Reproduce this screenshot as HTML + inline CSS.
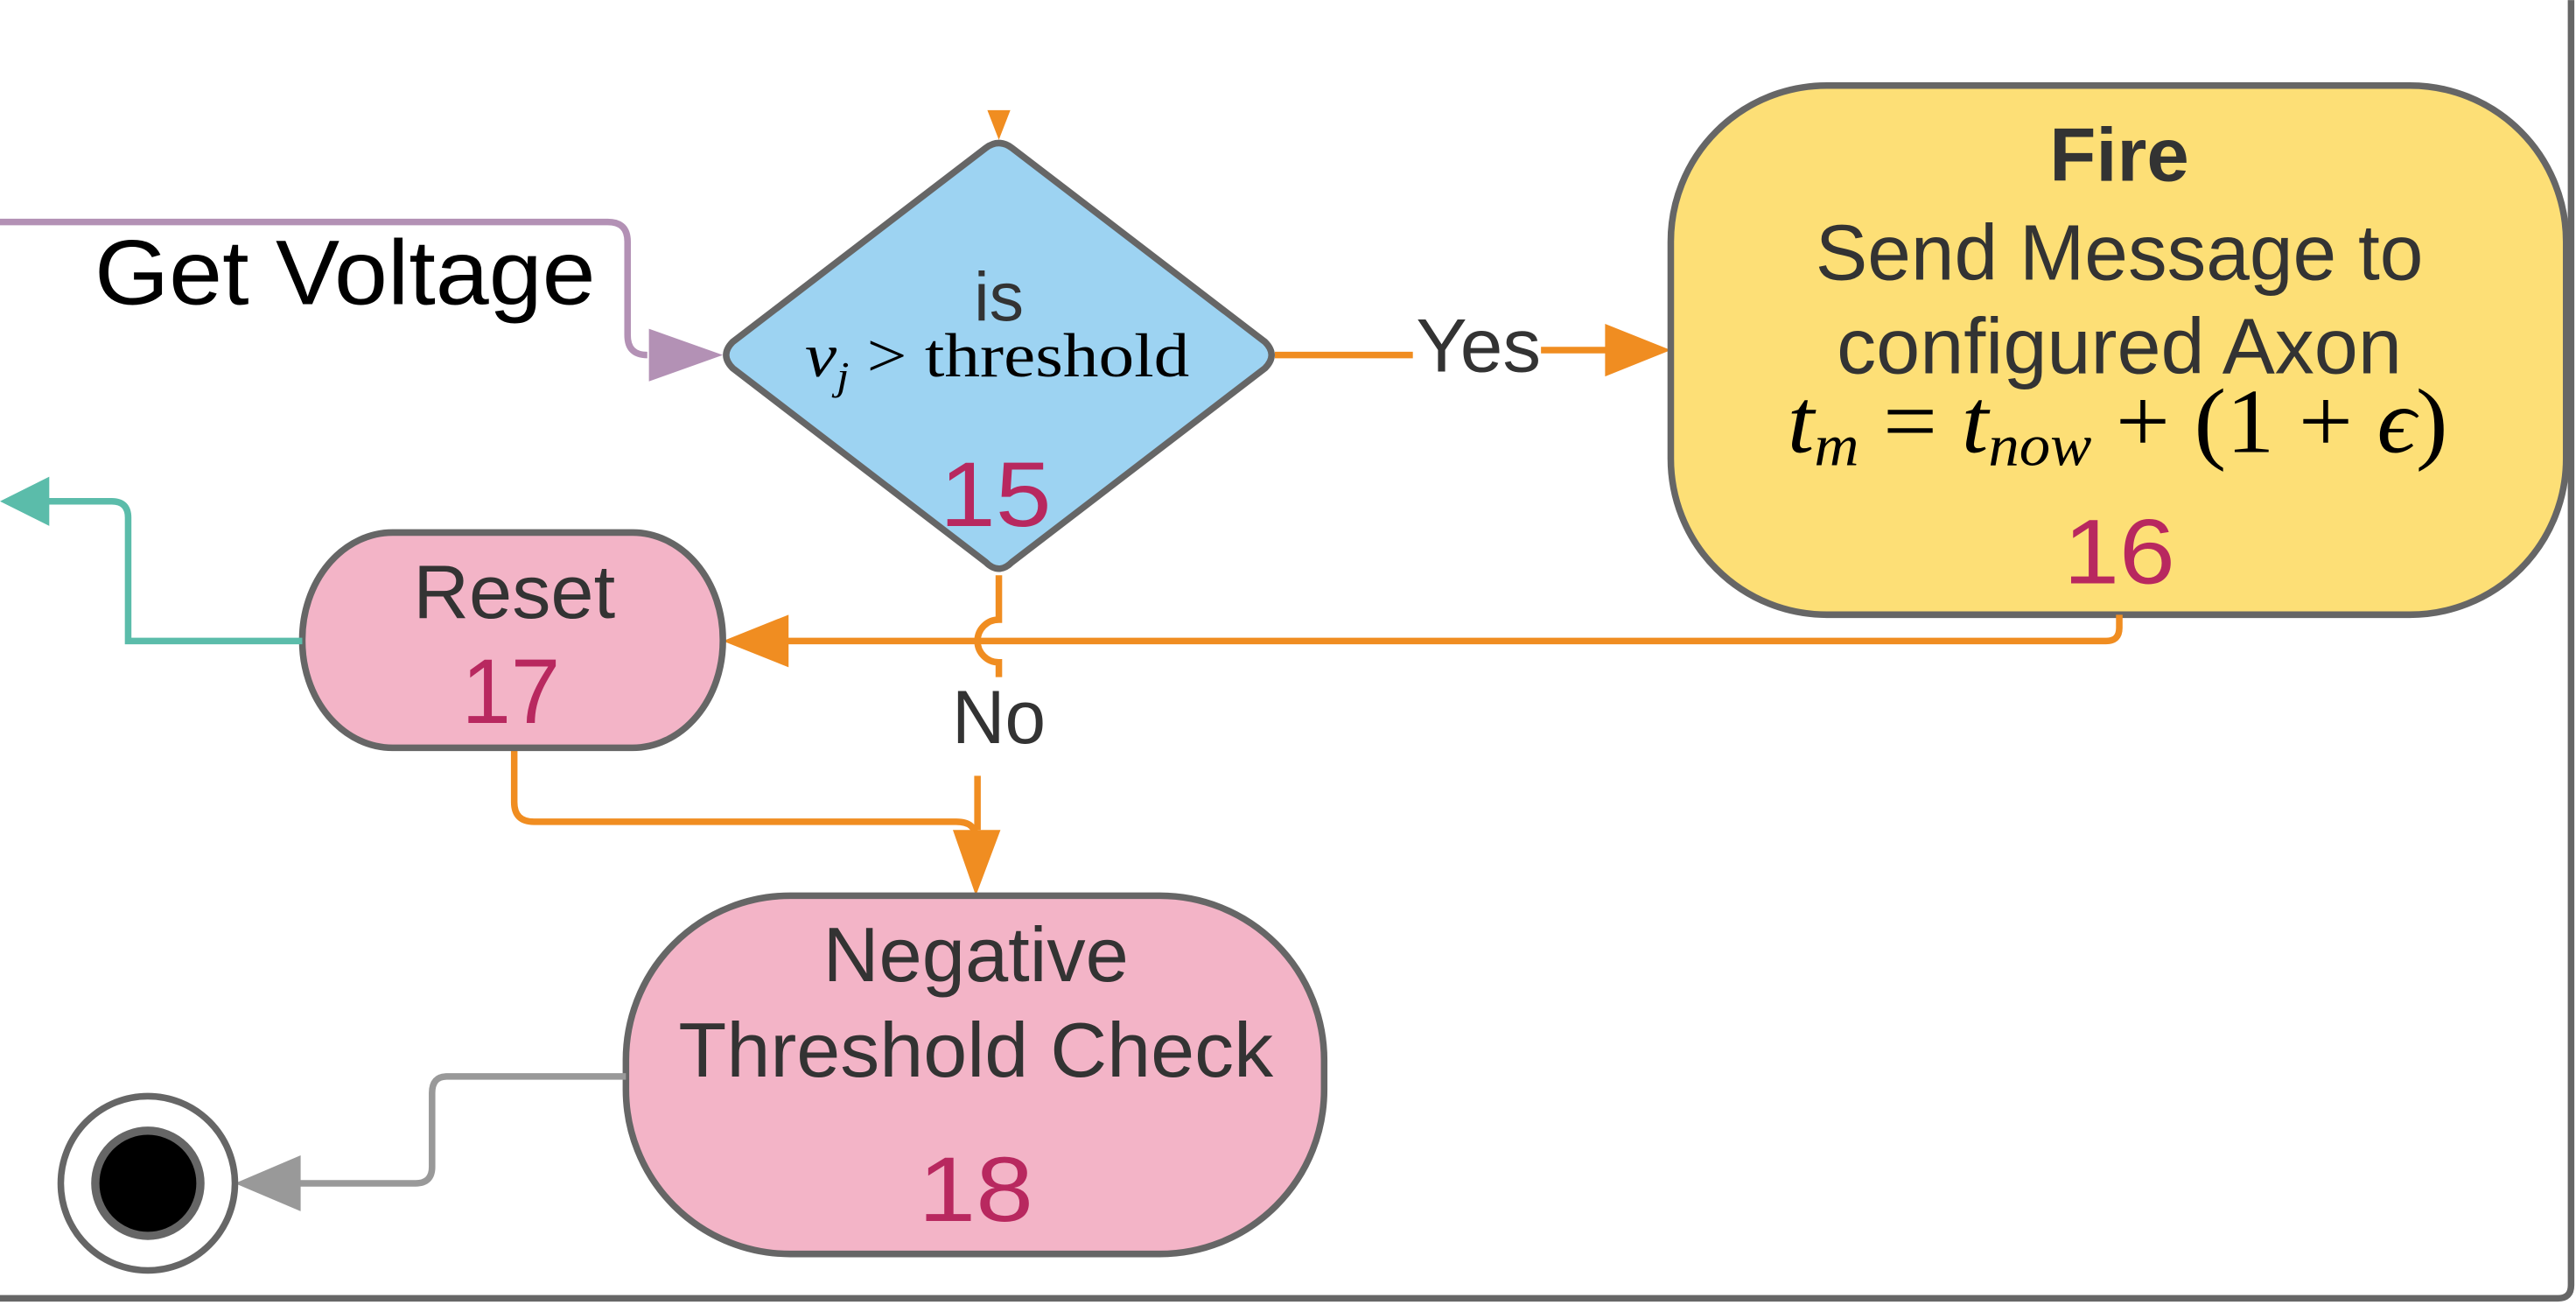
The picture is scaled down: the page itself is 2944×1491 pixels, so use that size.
<!DOCTYPE html>
<html><head><meta charset="utf-8"><style>
html,body{margin:0;padding:0;background:#fff;}
svg{display:block;}
.t{font-family:"Liberation Sans",sans-serif;fill:#333;text-anchor:middle;}
.n{font-family:"Liberation Sans",sans-serif;fill:#b8285f;text-anchor:middle;}
.m{font-family:"Liberation Serif",serif;fill:#000;text-anchor:middle;}
</style></head><body>
<svg width="2944" height="1491" viewBox="0 0 1568 794" xmlns="http://www.w3.org/2000/svg">
<path d="M1565 0 V782 Q1565 790 1557 790 H0" fill="none" stroke="#666" stroke-width="4"/>

<path d="M0 135 H370 Q382 135 382 147 V204 Q382 216 394 216" fill="none" stroke="#b391b5" stroke-width="4"/>
<polygon points="395,200 440,216 395,232" fill="#b391b5"/>
<text x="210" y="185" font-family="Liberation Sans, sans-serif" font-size="56" fill="#000" text-anchor="middle" textLength="305" lengthAdjust="spacingAndGlyphs">Get Voltage</text>

<polygon points="601,67 615,67 608,85" fill="#f08d21"/>

<path d="M600 90 Q608 84 616 90 L770 208 Q778 216 770 224 L616 342 Q608 350 600 342 L446 224 Q438 216 446 208 Z" fill="#9dd3f2" stroke="#666" stroke-width="4" stroke-linejoin="round"/>
<text class="t" x="608" y="195" font-size="42">is</text>
<text class="m" x="607" y="229" font-size="38" textLength="234" lengthAdjust="spacingAndGlyphs"><tspan font-style="italic">v</tspan><tspan font-style="italic" font-size="24" dy="8">j</tspan><tspan dy="-8"> &gt; threshold</tspan></text>
<text class="n" x="606" y="320" font-size="56" textLength="68" lengthAdjust="spacingAndGlyphs">15</text>

<path d="M776 216 H860" stroke="#f08d21" stroke-width="4"/>
<text class="t" x="900" y="226" font-size="46" textLength="76" lengthAdjust="spacingAndGlyphs">Yes</text>
<path d="M938 213 H980" stroke="#f08d21" stroke-width="4"/>
<polygon points="977,197 1017,213 977,229" fill="#f08d21"/>

<rect x="1017" y="52" width="545" height="322" rx="95" ry="95" fill="#fddf76" stroke="#666" stroke-width="4"/>
<text class="t" x="1290" y="110" font-size="46" font-weight="bold" textLength="85" lengthAdjust="spacingAndGlyphs">Fire</text>
<text class="t" x="1290" y="170" font-size="48" textLength="370" lengthAdjust="spacingAndGlyphs">Send Message to</text>
<text class="t" x="1290" y="227" font-size="48" textLength="344" lengthAdjust="spacingAndGlyphs">configured Axon</text>
<text class="m" x="1289" y="275" font-size="56" font-style="italic" textLength="402" lengthAdjust="spacingAndGlyphs">t<tspan font-size="36" dy="8">m</tspan><tspan dy="-8" font-style="normal"> = </tspan>t<tspan font-size="36" dy="8">now</tspan><tspan dy="-8" font-style="normal"> + (1 + </tspan>ϵ<tspan font-style="normal">)</tspan></text>
<text class="n" x="1290" y="355" font-size="56" textLength="68" lengthAdjust="spacingAndGlyphs">16</text>

<path d="M1290 374 V382 Q1290 390 1282 390 H478" fill="none" stroke="#f08d21" stroke-width="4"/>
<polygon points="480,374 440,390 480,406" fill="#f08d21"/>

<path d="M608 350 V377 A13 13 0 0 0 608 403 V412" fill="none" stroke="#f08d21" stroke-width="4"/>
<text class="t" x="608" y="452" font-size="46" textLength="57" lengthAdjust="spacingAndGlyphs">No</text>
<path d="M595 472 V505" stroke="#f08d21" stroke-width="4"/>

<path d="M313 450 V488 Q313 500 325 500 H582 Q594 500 594 510" fill="none" stroke="#f08d21" stroke-width="4"/>
<polygon points="580,505 609,505 594,545" fill="#f08d21"/>

<rect x="184" y="324" width="256" height="131" rx="55" ry="65" fill="#f3b4c7" stroke="#666" stroke-width="4"/>
<text class="t" x="313" y="376" font-size="46" textLength="123" lengthAdjust="spacingAndGlyphs">Reset</text>
<text class="n" x="311" y="440" font-size="56" textLength="60" lengthAdjust="spacingAndGlyphs">17</text>

<path d="M184 390 H78 V315 Q78 305 68 305 H28" fill="none" stroke="#5bbcaa" stroke-width="4"/>
<polygon points="30,290 0,305 30,320" fill="#5bbcaa"/>

<rect x="381" y="545" width="425" height="218" rx="100" ry="100" fill="#f3b4c7" stroke="#666" stroke-width="4"/>
<text class="t" x="594" y="597" font-size="47" textLength="186" lengthAdjust="spacingAndGlyphs">Negative</text>
<text class="t" x="594" y="655" font-size="47" textLength="362" lengthAdjust="spacingAndGlyphs">Threshold Check</text>
<text class="n" x="594" y="743" font-size="56" textLength="70" lengthAdjust="spacingAndGlyphs">18</text>

<path d="M381 655 H272 Q263 655 263 665 V710 Q263 720 253 720 H180" fill="none" stroke="#999" stroke-width="4"/>
<polygon points="183,703 143,720 183,737" fill="#999"/>

<circle cx="90" cy="720" r="53" fill="#fff" stroke="#666" stroke-width="4"/>
<circle cx="90" cy="720" r="32" fill="#000" stroke="#666" stroke-width="5"/>
</svg>
</body></html>
